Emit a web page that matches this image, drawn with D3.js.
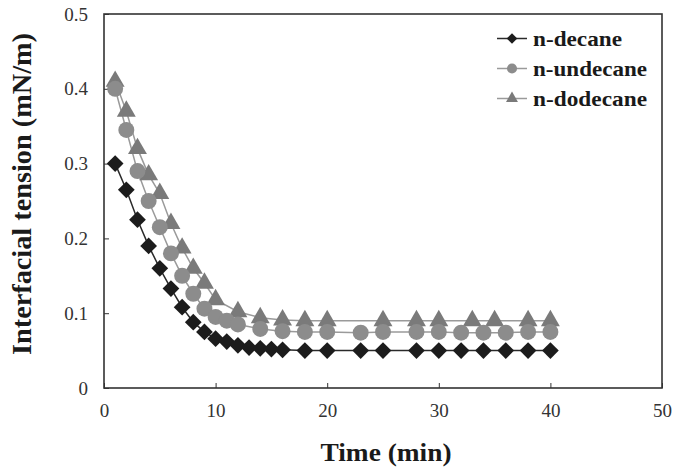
<!DOCTYPE html>
<html>
<head>
<meta charset="utf-8">
<script src="https://cdn.jsdelivr.net/npm/d3@7"></script>
<style>
    body { margin: 0; background: #fff; }
</style>
</head>
<body>
<div id="chart"></div>
<script>
// time (min) and interfacial tension (mN/m)
const decaneTime = [1, 2, 3, 4, 5, 6, 7, 8, 9, 10, 11, 12, 13, 14, 15, 16, 18, 20, 23, 25, 28, 30, 32, 34, 36, 38, 40];
const decaneIFT = [0.30, 0.265, 0.225, 0.19, 0.16, 0.133, 0.108, 0.088, 0.075, 0.066, 0.062, 0.057, 0.054, 0.053, 0.052, 0.051, 0.05, 0.05, 0.05, 0.05, 0.05, 0.05, 0.05, 0.05, 0.05, 0.05, 0.05];

const undecaneTime = [1, 2, 3, 4, 5, 6, 7, 8, 9, 10, 11, 12, 14, 16, 18, 20, 23, 25, 28, 30, 32, 34, 36, 38, 40];
const undecaneIFT = [0.40, 0.345, 0.29, 0.25, 0.215, 0.18, 0.15, 0.126, 0.106, 0.095, 0.09, 0.085, 0.079, 0.076, 0.075, 0.075, 0.074, 0.075, 0.075, 0.075, 0.074, 0.074, 0.074, 0.075, 0.075];

const dodecaneTime = [1, 2, 3, 4, 5, 6, 7, 8, 9, 10, 12, 14, 16, 18, 20, 25, 28, 30, 33, 35, 38, 40];
const dodecaneIFT = [0.41, 0.37, 0.32, 0.285, 0.26, 0.22, 0.187, 0.16, 0.14, 0.118, 0.102, 0.094, 0.091, 0.09, 0.09, 0.09, 0.09, 0.09, 0.09, 0.09, 0.09, 0.09];

const xTicks = [0, 10, 20, 30, 40, 50];
const yTicks = [0, 0.1, 0.2, 0.3, 0.4, 0.5];

// diamond = square turned 45 degrees, so it is as wide as it is tall
const series = [
    {name: 'n-decane', time: decaneTime, ift: decaneIFT, symbol: d3.symbolSquare, rot: 45, size: 140, legendSize: 56, fill: '#1c1c1c', line: '#2a2a2a', labelLen: 89},
    {name: 'n-undecane', time: undecaneTime, ift: undecaneIFT, symbol: d3.symbolCircle, rot: 0, size: 200, legendSize: 80, fill: '#8c8c8c', line: '#9a9a9a', labelLen: 114},
    {name: 'n-dodecane', time: dodecaneTime, ift: dodecaneIFT, symbol: d3.symbolTriangle, rot: 0, size: 155, legendSize: 62, fill: '#7a7a7a', line: '#9a9a9a', labelLen: 114}
];

const serif = "'Liberation Serif', 'Times New Roman', serif";
const width = 682, height = 467;
const margin = {top: 14, right: 20, bottom: 79, left: 104};

const svg = d3.select('#chart').append('svg')
    .attr('width', width)
    .attr('height', height)
    .attr('font-family', serif);

const x = d3.scaleLinear().domain([0, 50]).range([margin.left, width - margin.right]);
const y = d3.scaleLinear().domain([0, 0.5]).range([height - margin.bottom, margin.top]);

// axes with inward ticks
svg.append('g')
    .attr('transform', 'translate(0,' + y(0) + ')')
    .call(d3.axisBottom(x).tickValues(xTicks).tickSize(-5).tickPadding(16).tickFormat(d3.format('d')))
    .call(g => g.attr('font-family', serif))
    .call(g => g.select('.domain').remove())
    .call(g => g.selectAll('.tick line').attr('stroke', '#333'))
    .call(g => g.selectAll('.tick text').attr('font-size', 19).attr('fill', '#333'));

svg.append('g')
    .attr('transform', 'translate(' + x(0) + ',0)')
    .call(d3.axisLeft(y).tickValues(yTicks).tickSize(-5).tickPadding(16).tickFormat(d => d === 0 ? '0' : d3.format('.1f')(d)))
    .call(g => g.attr('font-family', serif))
    .call(g => g.select('.domain').remove())
    .call(g => g.selectAll('.tick line').attr('stroke', '#333'))
    .call(g => g.selectAll('.tick text').attr('font-size', 19).attr('fill', '#333'));

svg.append('rect')
    .attr('x', x(0))
    .attr('y', y(0.5))
    .attr('width', x(50) - x(0))
    .attr('height', y(0) - y(0.5))
    .attr('fill', 'none')
    .attr('stroke', '#333')
    .attr('stroke-width', 1.6);

// series
let line = d3.line().x(d => x(d[0])).y(d => y(d[1]));

series.slice().reverse().forEach(s => {
    let pts = s.time.map((t, i) => [t, s.ift[i]]);
    svg.append('path')
        .datum(pts)
        .attr('fill', 'none')
        .attr('stroke', s.line)
        .attr('stroke-width', 1.5)
        .attr('d', line);
});

series.slice().reverse().forEach(s => {
    let pts = s.time.map((t, i) => [t, s.ift[i]]);
    svg.append('g').selectAll('path')
        .data(pts)
        .enter().append('path')
        .attr('transform', d => 'translate(' + x(d[0]) + ',' + y(d[1]) + ')rotate(' + s.rot + ')')
        .attr('d', d3.symbol().type(s.symbol).size(s.size))
        .attr('fill', s.fill);
});

// legend
let legend = svg.append('g').attr('transform', 'translate(497,38.5)');
series.forEach((s, i) => {
    let row = legend.append('g').attr('transform', 'translate(0,' + i * 30 + ')');
    row.append('line')
        .attr('x1', 0).attr('x2', 30)
        .attr('stroke', s.line).attr('stroke-width', 1.5);
    row.append('path')
        .attr('transform', 'translate(15,0)rotate(' + s.rot + ')')
        .attr('d', d3.symbol().type(s.symbol).size(s.legendSize))
        .attr('fill', s.fill);
    row.append('text')
        .attr('x', 36)
        .attr('dy', '0.33em')
        .attr('font-size', 22)
        .attr('font-weight', 'bold')
        .attr('fill', '#1a1a1a')
        .attr('textLength', s.labelLen)
        .attr('lengthAdjust', 'spacingAndGlyphs')
        .text(s.name);
});

// axis titles
svg.append('text')
    .attr('x', 386)
    .attr('y', 461)
    .attr('text-anchor', 'middle')
    .attr('font-size', 26)
    .attr('font-weight', 'bold')
    .attr('fill', '#1a1a1a')
    .attr('textLength', 131)
    .attr('lengthAdjust', 'spacingAndGlyphs')
    .text('Time (min)');

svg.append('text')
    .attr('transform', 'translate(31,194)rotate(-90)')
    .attr('text-anchor', 'middle')
    .attr('font-size', 26.5)
    .attr('font-weight', 'bold')
    .attr('fill', '#1a1a1a')
    .attr('textLength', 322)
    .attr('lengthAdjust', 'spacingAndGlyphs')
    .text('Interfacial tension (mN/m)');
</script>
</body>
</html>
